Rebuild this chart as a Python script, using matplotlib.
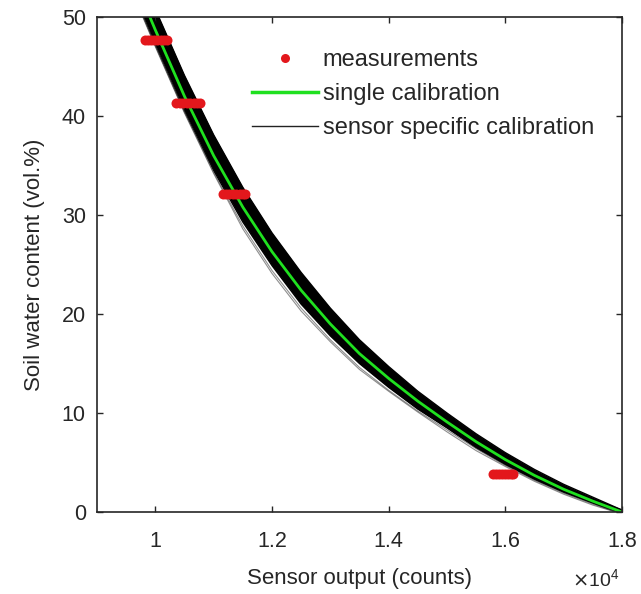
import numpy as np
import matplotlib
matplotlib.use("Agg")
import matplotlib.pyplot as plt
from matplotlib.ticker import FuncFormatter

plt.rcParams["font.family"] = ["Liberation Sans", "DejaVu Sans"]

TEXT_COLOR = "#262626"
GREEN = "#1fe01f"
RED = "#e3171c"

# sensor output (counts) shared by all calibration curves
curve_x = [9700, 9900, 10000, 10500, 11000, 11500, 12000, 12500, 13000, 13500,
           14000, 14500, 15000, 15500, 16000, 16500, 17000, 17500, 18000]

# single calibration (vol.%)
single_cal = [52.9, 50.1, 48.7, 42.0, 36.0, 30.8, 26.3, 22.4, 19.0, 16.0,
              13.5, 11.2, 9.1, 7.1, 5.3, 3.7, 2.3, 1.1, 0.0]

# sensor specific calibrations (vol.%), core of the band
sensor_cal = [
    [51.4, 48.6, 47.2, 40.5, 34.5, 29.3, 24.9, 21.0, 17.8, 15.0, 12.6, 10.4, 8.5, 6.5, 4.8, 3.3, 2.0, 0.9, -0.2],
    [52.1, 49.3, 47.9, 41.2, 35.2, 30.0, 25.6, 21.7, 18.4, 15.5, 13.1, 10.8, 8.8, 6.8, 5.1, 3.5, 2.1, 1.0, -0.1],
    [52.9, 50.1, 48.7, 42.0, 36.0, 30.8, 26.3, 22.4, 19.0, 16.0, 13.5, 11.2, 9.1, 7.1, 5.3, 3.7, 2.3, 1.1, 0.0],
    [53.7, 50.9, 49.5, 42.8, 36.8, 31.6, 27.0, 23.1, 19.6, 16.5, 13.9, 11.6, 9.4, 7.4, 5.5, 3.9, 2.5, 1.2, 0.1],
    [54.4, 51.6, 50.2, 43.5, 37.5, 32.3, 27.7, 23.8, 20.2, 17.0, 14.4, 12.0, 9.7, 7.7, 5.8, 4.1, 2.6, 1.3, 0.2],
    [55.0, 52.2, 50.8, 44.1, 38.1, 32.8, 28.2, 24.2, 20.6, 17.4, 14.7, 12.2, 10.0, 7.9, 6.0, 4.3, 2.8, 1.5, 0.2],
]

# a few sensors that sit just below the band
sensor_cal_outliers = [
    [51.2, 48.4, 47.0, 40.3, 34.2, 28.6, 24.1, 20.3, 17.2, 14.4, 12.2, 10.1, 8.1, 6.2, 4.6, 3.1, 1.8, 0.7, -0.2],
    [51.3, 48.5, 47.1, 40.4, 34.3, 28.9, 24.4, 20.6, 17.4, 14.6, 12.3, 10.2, 8.3, 6.4, 4.7, 3.2, 1.9, 0.8, -0.2],
]

# measurements: sensor output at four water contents
meas_x = [9820, 9870, 9920, 9970, 10030, 10090, 10150, 10200,
          10360, 10420, 10480, 10540, 10600, 10660, 10720, 10770,
          11160, 11210, 11270, 11330, 11390, 11450, 11500, 11540,
          15790, 15840, 15890, 15940, 15990, 16040, 16090, 16140]
meas_y = [47.7] * 8 + [41.3] * 8 + [32.1] * 8 + [3.8] * 8

x_ticks = [10000, 12000, 14000, 16000, 18000]
y_ticks = [0, 10, 20, 30, 40, 50]

fig = plt.figure(figsize=(6.41, 5.94), dpi=100)
ax = fig.add_axes([0.1513, 0.138, 0.819, 0.8333])

sensor = np.array(sensor_cal)
ax.fill_between(curve_x, sensor.min(axis=0), sensor.max(axis=0), color="black", lw=0)
for row in sensor_cal:
    ax.plot(curve_x, row, color="black", lw=1.0)
for row in sensor_cal_outliers:
    ax.plot(curve_x, row, color="#444444", lw=0.8, alpha=0.6)
ax.plot(curve_x, single_cal, color=GREEN, lw=2.0)
ax.plot(meas_x, meas_y, "o", color=RED, ms=7.2, mec="none")

# legend handles
h_meas, = ax.plot([], [], "o", color=RED, ms=6.5, mec="none")
h_single, = ax.plot([], [], color=GREEN, lw=2.5)
h_sensor, = ax.plot([], [], color="#222222", lw=1.0)
ax.legend([h_meas, h_single, h_sensor],
          ["measurements", "single calibration", "sensor specific calibration"],
          loc="upper left", bbox_to_anchor=(0.295, 0.935), frameon=False,
          fontsize=17, handlelength=2.8, handletextpad=0.2, labelspacing=0.5,
          borderpad=0, borderaxespad=0, numpoints=1, labelcolor=TEXT_COLOR)

ax.set_xlim(9000, 18000)
ax.set_ylim(0, 50)
ax.set_xticks(x_ticks)
ax.set_yticks(y_ticks)
ax.xaxis.set_major_formatter(FuncFormatter(lambda v, p: f"{v / 1e4:g}"))

ax.tick_params(direction="in", length=4, width=1.0, top=True, right=True,
               labelsize=15.5, colors=TEXT_COLOR)
ax.tick_params(axis="x", pad=14)
ax.tick_params(axis="y", pad=8)
for sp in ax.spines.values():
    sp.set_color(TEXT_COLOR)
    sp.set_linewidth(1.2)

ax.set_xlabel("Sensor output (counts)", fontsize=16, color=TEXT_COLOR, labelpad=11)
ax.set_ylabel("Soil water content (vol.%)", fontsize=16, color=TEXT_COLOR, labelpad=12)
ax.text(0.95, -0.135, r"$\times\mathdefault{10^{4}}$", transform=ax.transAxes,
        fontsize=14, color=TEXT_COLOR, ha="center", va="center")

fig.savefig("out.png", dpi=100)
